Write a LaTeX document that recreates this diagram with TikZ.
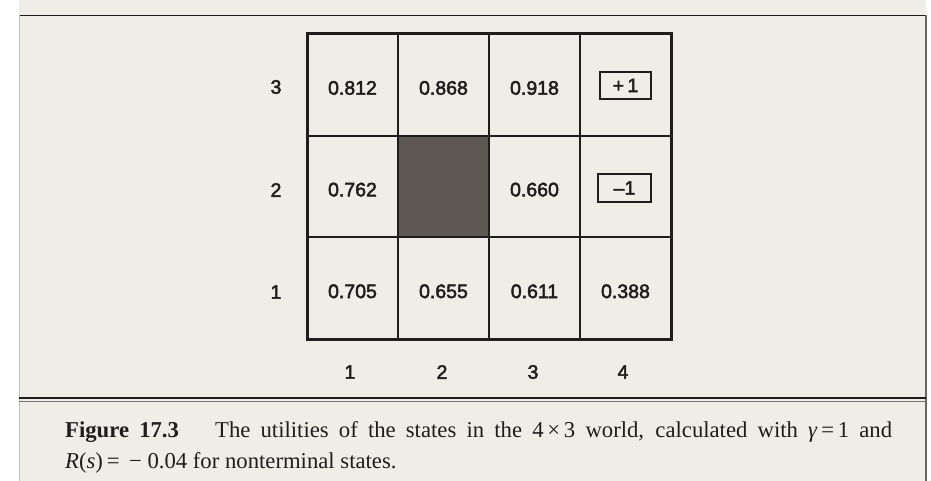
\documentclass[tikz,border=0pt]{standalone}
\usepackage{fontspec}
\setmainfont{Liberation Serif}
\newfontfamily\gridfont[FakeBold=2.5]{Liberation Sans}
\definecolor{paper}{HTML}{EFEDE7}
\definecolor{ink}{HTML}{1E1E1E}
\definecolor{wallgray}{HTML}{5E5852}
\begin{document}
\begin{tikzpicture}[x=1bp,y=-1bp,
  cell/.style={draw=ink, line width=2bp, minimum width=91bp, minimum height=101.7bp,
    inner sep=0pt, outer sep=0pt, text=ink, font=\gridfont\fontsize{19.5bp}{22bp}\selectfont,
    text height=19.6bp, text depth=0bp},
  wall/.style={cell, fill=wallgray},
  termbox/.style={draw=ink, line width=2.6bp, minimum width=51bp, minimum height=27bp,
    inner sep=0pt, text=ink, font=\gridfont\fontsize{19.5bp}{22bp}\selectfont},
  axislabel/.style={text=ink, font=\gridfont\fontsize{19.5bp}{22bp}\selectfont, inner sep=0pt},
  captext/.style={anchor=base west, inner sep=0pt, text=ink, font=\fontsize{22.7bp}{31bp}\selectfont}
]
\useasboundingbox (0,0) rectangle (931,481);
\fill[white] (0,0) rectangle (931,481);
\fill[paper] (19,0) rectangle (926,481);
% page frame lines
\draw[ink, line width=1.5bp] (19,15.5) -- (926,15.5);
\draw[black!60, line width=1.2bp] (926,15.5) -- (926,481);
\draw[black!25, line width=0.6bp] (19,15.5) -- (19,481);
% separator
\draw[ink, line width=2bp] (19,398.3) -- (926,398.3);
\draw[black!55, line width=0.8bp] (19,401.6) -- (926,401.6);

% grid cells
\node[cell] (c13) at (352.5,84.85) {0.812};
\node[cell] (c23) at (443.5,84.85) {0.868};
\node[cell] (c33) at (534.5,84.85) {0.918};
\node[cell] (c43) at (625.5,84.85) {};
\node[cell] (c12) at (352.5,186.55) {0.762};
\node[wall] (c22) at (443.5,186.55) {};
\node[cell] (c32) at (534.5,186.55) {0.660};
\node[cell] (c42) at (625.5,186.55) {};
\node[cell] (c11) at (352.5,288.25) {0.705};
\node[cell] (c21) at (443.5,288.25) {0.655};
\node[cell] (c31) at (534.5,288.25) {0.611};
\node[cell] (c41) at (625.5,288.25) {0.388};
\draw[ink, line width=3bp] (c13.north west) rectangle (c41.south east);

% terminal boxes
\node[termbox] (plus) at (625.5,85.5) {+\,1};
\node[termbox, minimum width=53bp, minimum height=28bp] (minus) at (624.5,188) {–1};

% row labels
\node[axislabel] (r3) at (276,87) {3};
\node[axislabel] (r2) at (276,190) {2};
\node[axislabel] (r1) at (276,292) {1};
% column labels
\node[axislabel] (k1) at (350,372) {1};
\node[axislabel] (k2) at (442,372) {2};
\node[axislabel] (k3) at (533,372) {3};
\node[axislabel] (k4) at (623,372) {4};

% caption
\node[captext] (cap1) at (65,437) {\makebox[827bp][s]{\textbf{Figure 17.3}\hspace{26bp} The utilities of the states in the 4\,×\,3 world, calculated with \textit{γ}\,=\,1 and}};
\node[captext] (cap2) at (65,468) {\textit{R}(\textit{s})\,=\, − 0.04 for nonterminal states.};
\end{tikzpicture}
\end{document}
